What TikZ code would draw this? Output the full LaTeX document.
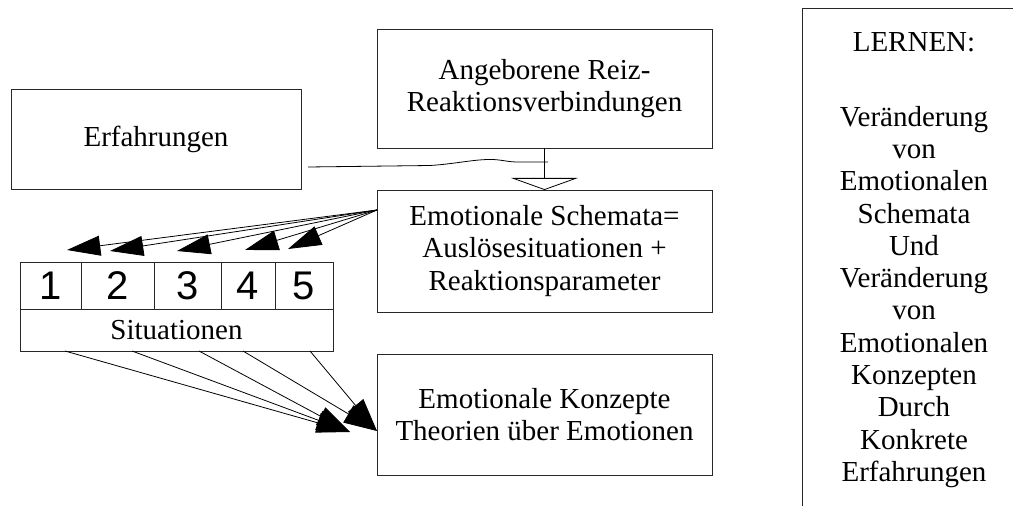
\documentclass[tikz,border=0pt]{standalone}
\usepackage{fontspec}
\setmainfont{Liberation Serif}
\newfontfamily\digitfont{Liberation Sans}
\usepackage{tikz}
\usetikzlibrary{positioning, arrows.meta}
\definecolor{boxline}{RGB}{40,40,40}
\tikzstyle{box} = [rectangle, draw=boxline, line width=0.6pt,
                   align=center, inner sep=0pt, outer sep=0pt,
                   font=\fontsize{21.75}{24.2}\selectfont]
\tikzstyle{cell} = [box, minimum height=47*0.75pt,
                    font=\digitfont\fontsize{30}{32}\selectfont]
\tikzstyle{arrow} = [line width=0.6pt, -{Triangle[length=25pt,width=15pt]}]
\tikzstyle{hollow} = [line width=0.6pt, -{Triangle[open,length=9pt,width=50pt]}]

\begin{document}
\begin{tikzpicture}[x=0.75pt, y=-0.75pt]
        \useasboundingbox (0,0) rectangle (1013,506);

        %Erfahrungen
        \node (Erfahrungen) [box, anchor=north west, minimum width=290*0.75pt, minimum height=100*0.75pt] at (11,89) {Erfahrungen};

        %Middle column
        \node (Angeboren) [box, anchor=north west, minimum width=335*0.75pt, minimum height=119*0.75pt] at (377,29) {Angeborene Reiz-\\Reaktionsverbindungen};
        \node (Schemata) [box, below=42*0.75pt of Angeboren, minimum width=335*0.75pt, minimum height=122*0.75pt] {Emotionale Schemata=\\ Auslösesituationen +\\Reaktionsparameter};
        \node (Konzepte) [box, below=42*0.75pt of Schemata, minimum width=335*0.75pt, minimum height=121*0.75pt] {Emotionale Konzepte\\ Theorien über Emotionen};

        %Situations 1..5
        \node (C1) [cell, anchor=north west, minimum width=61*0.75pt] at (20,262) {1};
        \node (C2) [cell, right=0pt of C1, minimum width=73*0.75pt] {2};
        \node (C3) [cell, right=0pt of C2, minimum width=67*0.75pt] {3};
        \node (C4) [cell, right=0pt of C3, minimum width=54*0.75pt] {4};
        \node (C5) [cell, right=0pt of C4, minimum width=58*0.75pt] {5};
        \node (Situationen) [box, anchor=north west, minimum width=313*0.75pt, minimum height=42*0.75pt] at (C1.south west) {Situationen};

        %LERNEN box (cut off at the page edge)
        \begin{scope}
            \clip (0,0) rectangle (1013,506);
            \node (Lernen) [box, anchor=north west, minimum width=224*0.75pt, minimum height=504*0.75pt] at (802,8) {LERNEN:\\[32pt]Veränderung\\von\\Emotionalen\\Schemata\\Und\\Veränderung\\von\\Emotionalen\\Konzepten\\Durch\\Konkrete\\Erfahrungen};
        \end{scope}

        %Erfahrungen into the inborn link
        \coordinate (wavestart) at (308,167);
        \coordinate (waveend) at (548,162);
        \draw [line width=0.6pt] (wavestart) -- (430,165.5) .. controls (455,164) and (475,159) .. (493,159.5) .. controls (503,160) and (508,162) .. (518,162) -- (waveend);
        \draw [hollow] (Angeboren.south) -- (Schemata.north);

        %Schemata to situations
        \coordinate (fan) at (377,210);
        \coordinate (s1) at (67,250);
        \coordinate (s2) at (110,251);
        \coordinate (s3) at (177,251);
        \coordinate (s4) at (245,250);
        \coordinate (s5) at (288,249);
        \draw [arrow] (fan) -- (s1);
        \draw [arrow] (fan) -- (s2);
        \draw [arrow] (fan) -- (s3);
        \draw [arrow] (fan) -- (s4);
        \draw [arrow] (fan) -- (s5);

        %Situations to Konzepte
        \coordinate (k1) at (65,351);
        \coordinate (k2) at (132,351);
        \coordinate (k3) at (199,351);
        \coordinate (k4) at (243,351);
        \coordinate (k5) at (310,351);
        \coordinate (kin) at (350,432);
        \coordinate (kedge) at (377,431);
        \draw [arrow] (k1) -- (kin);
        \draw [arrow] (k2) -- (kin);
        \draw [arrow] (k3) -- (kin);
        \draw [arrow] (k4) -- (kedge);
        \draw [arrow] (k5) -- (kedge);

    \end{tikzpicture}
\end{document}
